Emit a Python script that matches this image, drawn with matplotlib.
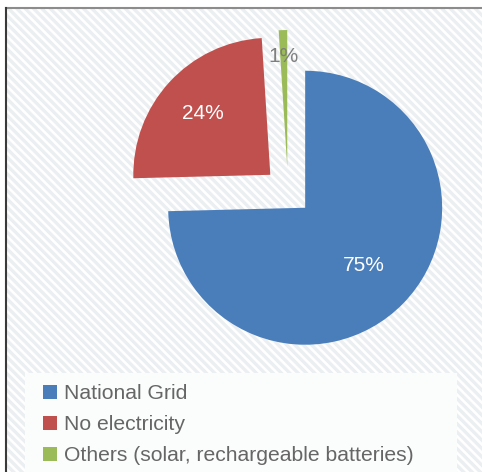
import numpy as np
import matplotlib.pyplot as plt
from matplotlib.patches import Rectangle
from matplotlib.lines import Line2D

plt.rcParams['font.family'] = ['Liberation Sans', 'DejaVu Sans']
plt.rcParams['hatch.linewidth'] = 2.4

# data ─────────────────────────────────────────────
labels = ['National Grid', 'No electricity', 'Others (solar, rechargeable batteries)']
shares = [74.6, 24.4, 1.0]
colors = ['#4A7EBB', '#C0504D', '#9BBB59']
pct_colors = ['white', 'white', '#7F7F7F']
pct_dist = [0.6, 0.665, 0.805]   # label distance from each slice's own corner

W, H = 482, 472
fig = plt.figure(figsize=(W / 100, H / 100), dpi=100)

def px(x, y_top):
    # pixel (from top-left) -> figure fraction
    return x / W, 1 - y_top / H

# chart area background with diagonal stripes
x0, y0 = px(6, H)
x1, y1 = px(W, 8)
fig.add_artist(Rectangle((x0, y0), x1 - x0, y1 - y0, transform=fig.transFigure,
                         facecolor='white', edgecolor='#ECEFF1', hatch='\\\\\\\\',
                         linewidth=0, zorder=0))

# frame lines
fig.add_artist(Line2D([x0, x1], [y1, y1], transform=fig.transFigure, color='#8C8C8C', lw=1.5))
fig.add_artist(Line2D([x0, x0], [y0, y1], transform=fig.transFigure, color='#3A3A3A', lw=1.5))

# pie ─────────────────────────────────────────────
R = 137.0
cx, cy = 288, 191
half = 1.4 * R
ax = fig.add_axes([(cx - half) / W, (H - cy - half) / H, 2 * half / W, 2 * half / H])
ax.set_facecolor('none')

wedges, texts, autotexts = ax.pie(
    shares, colors=colors, startangle=90, counterclock=False,
    explode=[0.175] * 3, autopct='%.0f%%', radius=1.0,
    wedgeprops=dict(linewidth=0),
    textprops=dict(fontsize=15))
ax.set_xlim(-1.4, 1.4)
ax.set_ylim(-1.4, 1.4)
ax.set_aspect('equal')
ax.axis('off')

for w, t, d, c in zip(wedges, autotexts, pct_dist, pct_colors):
    ang = np.deg2rad((w.theta1 + w.theta2) / 2)
    ox, oy = w.center
    t.set_position((ox + d * np.cos(ang), oy + d * np.sin(ang)))
    t.set_color(c)

# legend ─────────────────────────────────────────────
lx0, ly0 = px(25, H)
lx1, ly1 = px(457, 373)
fig.add_artist(Rectangle((lx0, ly0), lx1 - lx0, ly1 - ly0, transform=fig.transFigure,
                         facecolor='#FBFCFC', edgecolor='none', zorder=1))

lx, ly = px(38, 379)
leg = fig.legend(wedges, labels, loc='upper left', bbox_to_anchor=(lx, ly),
                 frameon=False, fontsize=15.2, handlelength=0.67, handleheight=0.67,
                 handletextpad=0.3, labelspacing=0.57, borderaxespad=0, borderpad=0.25,
                 labelcolor='#666666')

fig.savefig('out.png', dpi=100)
